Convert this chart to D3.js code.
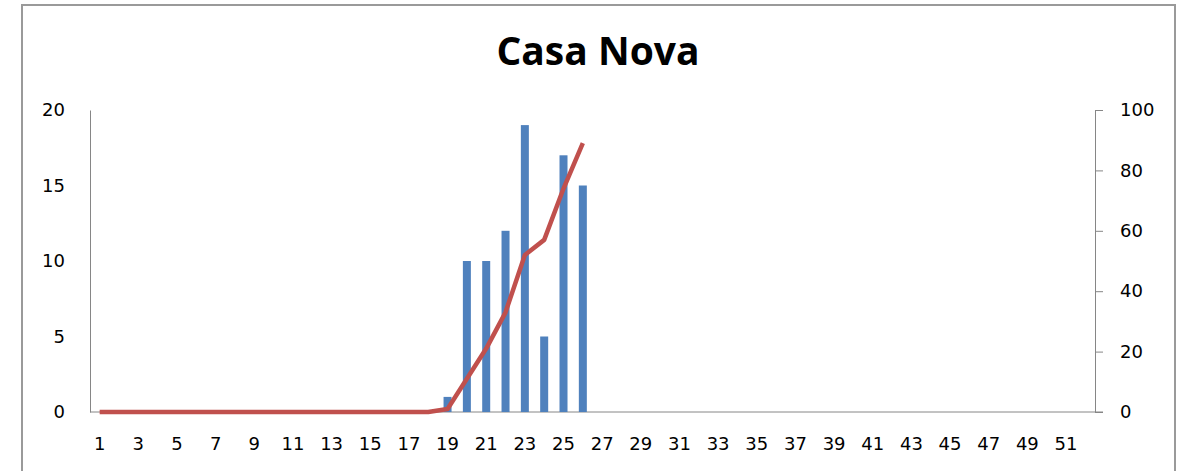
<!DOCTYPE html>
<html>
<head>
<meta charset="utf-8">
<script src="https://cdn.jsdelivr.net/npm/d3@7"></script>
<style>
  body { margin: 0; background: #fff; }
  svg { display: block; }
  .tick text, .lbl { font-family: "DejaVu Sans", sans-serif; font-size: 18px; fill: #000; }
</style>
</head>
<body>
<div id="chart"></div>
<script>
// categories 1..52
const weeks = d3.range(1, 53);
const tickWeeks = weeks.filter(w => w % 2 === 1);

// bar series (left axis)
const barWeeks = [19, 20, 21, 22, 23, 24, 25, 26];
const barValues = [1, 10, 10, 12, 19, 5, 17, 15];

// line series (right axis), weeks 1..26
const lineWeeks = d3.range(1, 27);
const lineValues = [0, 0, 0, 0, 0, 0, 0, 0, 0, 0, 0, 0, 0, 0, 0, 0, 0, 0, 1, 11, 21, 33, 52, 57, 74, 89];

const leftTicks = [0, 5, 10, 15, 20];
const rightTicks = [0, 20, 40, 60, 80, 100];

const W = 1178, H = 471;
const plot = { left: 90, right: 1095, top: 110, bottom: 412 };

const svg = d3.select("#chart").append("svg")
    .attr("width", W)
    .attr("height", H);

// outer frame
svg.append("rect")
    .attr("x", 22).attr("y", 5)
    .attr("width", 1153).attr("height", H)
    .attr("fill", "#fff")
    .attr("stroke", "#9a9a9a")
    .attr("stroke-width", 2);

// title
svg.append("text")
    .attr("x", 598).attr("y", 65)
    .attr("text-anchor", "middle")
    .style("font-family", "'Open Sans', sans-serif")
    .style("font-weight", "bold")
    .style("font-size", "39px")
    .text("Casa Nova");

const x = d3.scaleBand()
    .domain(weeks)
    .range([plot.left, plot.right]);

const yL = d3.scaleLinear().domain([0, 20]).range([plot.bottom, plot.top]);
const yR = d3.scaleLinear().domain([0, 100]).range([plot.bottom, plot.top]);

// left axis (no tick marks)
const gL = svg.append("g")
    .attr("transform", "translate(" + plot.left + ",0)")
    .call(d3.axisLeft(yL).tickValues(leftTicks).tickSize(0).tickPadding(25));
gL.select(".domain").attr("stroke", "#868686");

// right axis
const gR = svg.append("g")
    .attr("transform", "translate(" + plot.right + ",0)")
    .call(d3.axisRight(yR).tickValues(rightTicks).tickSize(8).tickSizeOuter(0).tickPadding(17));
gR.selectAll("line, .domain").attr("stroke", "#868686");

// bottom axis
const gX = svg.append("g")
    .attr("transform", "translate(0," + plot.bottom + ")")
    .call(d3.axisBottom(x).tickValues(tickWeeks).tickSize(0).tickPadding(25));
gX.select(".domain").remove();
svg.append("line")
    .attr("x1", plot.left).attr("x2", plot.right + 8)
    .attr("y1", plot.bottom).attr("y2", plot.bottom)
    .attr("stroke", "#868686");

[gL, gR, gX].forEach(g => g.selectAll("text").attr("fill", "#000"));

// bars
const barW = 8;
svg.append("g")
    .selectAll("rect")
    .data(barWeeks)
    .enter()
    .append("rect")
    .attr("x", (d, i) => x(d) + x.bandwidth() / 2 - barW / 2)
    .attr("y", (d, i) => yL(barValues[i]))
    .attr("width", barW)
    .attr("height", (d, i) => yL(0) - yL(barValues[i]))
    .attr("fill", "#4f81bd");

// cumulative line
const line = d3.line()
    .x(d => x(d[0]) + x.bandwidth() / 2)
    .y(d => yR(d[1]));

svg.append("path")
    .datum(lineWeeks.map((w, i) => [w, lineValues[i]]))
    .attr("d", line)
    .attr("fill", "none")
    .attr("stroke", "#c0504d")
    .attr("stroke-width", 4.5)
    .attr("stroke-linejoin", "round");
</script>
</body>
</html>
